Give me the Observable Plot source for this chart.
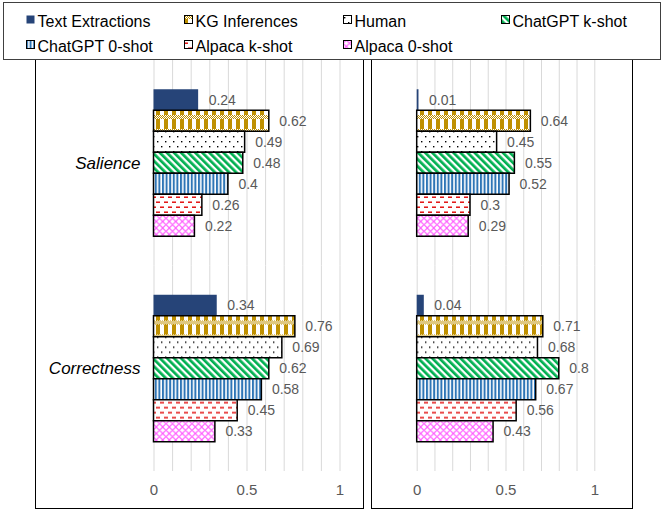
<!DOCTYPE html>
<html>
<head>
<meta charset="utf-8">
<script src="https://cdn.jsdelivr.net/npm/d3@7"></script>
<script src="https://cdn.jsdelivr.net/npm/@observablehq/plot@0.6"></script>
<style>
  html, body { margin: 0; padding: 0; background: #fff; }
  body { width: 665px; height: 514px; position: relative; overflow: hidden; font-family: "Liberation Sans", Arial, sans-serif; }
  .abs { position: absolute; }
  .panel-border { position: absolute; border: 1.5px solid #000; box-sizing: border-box; }
  #legend { position: absolute; left: 3px; top: 2px; width: 658px; height: 58px; border: 1.5px solid #404040; box-sizing: border-box; background: #fff; z-index: 5; }
  .item { position: absolute; font-size: 16px; color: #000; white-space: nowrap; line-height: 18px; }
  .item svg { position: absolute; left: 0; top: 0; }
  .item span { position: absolute; left: 12px; top: -2px; }
</style>
</head>
<body>
<svg width="0" height="0" style="position:absolute">
  <defs>
    <pattern id="p-kg-fine" width="2" height="2" patternUnits="userSpaceOnUse">
      <rect width="2" height="2" fill="#fff"/>
      <rect width="1" height="1" fill="#BF9000"/>
      <rect x="1" y="1" width="1" height="1" fill="#BF9000"/>
    </pattern>
    <pattern id="p-kg" width="8" height="14" patternUnits="userSpaceOnUse">
      <rect width="8" height="14" fill="#fff"/>
      <rect width="8" height="4" fill="url(#p-kg-fine)"/>
      <rect x="0" y="4" width="4" height="10" fill="#BF9000"/>
    </pattern>
    <pattern id="p-human" width="8" height="10" patternUnits="userSpaceOnUse">
      <rect width="8" height="10" fill="#fff"/>
      <rect x="1" y="2" width="1.4" height="1.4" fill="#000"/>
      <rect x="5" y="7" width="1.4" height="1.4" fill="#000"/>
    </pattern>
    <pattern id="p-gk" width="5" height="5" patternUnits="userSpaceOnUse" patternTransform="rotate(-45)">
      <rect width="5" height="5" fill="#fff"/>
      <rect width="2.7" height="5" fill="#00B050"/>
    </pattern>
    <pattern id="p-g0" width="3.6" height="4" patternUnits="userSpaceOnUse">
      <rect width="3.6" height="4" fill="#fff"/>
      <rect width="2" height="4" fill="#2E75B6"/>
    </pattern>
    <pattern id="p-ak" width="8" height="10" patternUnits="userSpaceOnUse">
      <rect width="8" height="10" fill="#fff"/>
      <rect x="0" y="2.5" width="4" height="1.4" fill="#E00000"/>
      <rect x="4" y="7.5" width="4" height="1.4" fill="#E00000"/>
    </pattern>
    <pattern id="p-a0" width="6.5" height="6.5" patternUnits="userSpaceOnUse">
      <rect width="6.5" height="6.5" fill="#fff"/>
      <path d="M0,3.25 L3.25,0 L6.5,3.25 L3.25,6.5 Z" fill="none" stroke="#FF55FF" stroke-width="1.1"/>
    </pattern>
  </defs>
</svg>

<div id="legend"></div>
<div class="panel-border" style="left:35px; top:58px; width:329px; height:451px;"></div>
<div class="panel-border" style="left:371px; top:58px; width:262px; height:451px;"></div>
<div id="left" class="abs" style="left:36px; top:59px;"></div>
<div id="right" class="abs" style="left:372px; top:59px;"></div>

<script>
// ---- data ----
const metrics = ["Salience", "Correctness"];
const series = ["Text Extractions", "KG Inferences", "Human", "ChatGPT k-shot", "ChatGPT 0-shot", "Alpaca k-shot", "Alpaca 0-shot"];
const leftSalience    = [0.24, 0.62, 0.49, 0.48, 0.4, 0.26, 0.22];
const leftCorrectness = [0.34, 0.76, 0.69, 0.62, 0.58, 0.45, 0.33];
const rightSalience    = [0.01, 0.64, 0.45, 0.55, 0.52, 0.3, 0.29];
const rightCorrectness = [0.04, 0.71, 0.68, 0.8, 0.67, 0.56, 0.43];
const xTicks = [0, 0.5, 1];
const gridTicks = [0, 0.1, 0.2, 0.3, 0.4, 0.5, 0.6, 0.7, 0.8, 0.9, 1];

// ---- styles ----
const fills = {
  "Text Extractions": "#264478",
  "KG Inferences": "url(#p-kg)",
  "Human": "url(#p-human)",
  "ChatGPT k-shot": "url(#p-gk)",
  "ChatGPT 0-shot": "url(#p-g0)",
  "Alpaca k-shot": "url(#p-ak)",
  "Alpaca 0-shot": "url(#p-a0)"
};

function rowsOf(sal, cor) {
  const vals = [sal, cor];
  return metrics.flatMap((m, mi) => series.map((s, si) => ({metric: m, series: s, value: vals[mi][si]})));
}

function panel(rows, {width, marginLeft, marginRight, showLabels}) {
  const marks = [
    Plot.gridX(gridTicks, {stroke: "#D9D9D9", strokeOpacity: 1, strokeWidth: 1}),
    Plot.barX(rows, {
      x: "value", y: "series", fy: "metric",
      fill: d => fills[d.series],
      stroke: d => d.series === series[0] ? "none" : "#000",
      strokeWidth: 1.5
    }),
    Plot.text(rows, {
      x: "value", y: "series", fy: "metric",
      text: d => String(d.value), dx: 10, textAnchor: "start",
      fill: "#595959", fontSize: 14
    }),
    Plot.axisX({ticks: xTicks, tickSize: 0, tickPadding: 13, fill: "#595959", fontSize: 15, label: null,
      tickFormat: d => String(d)})
  ];
  if (showLabels) {
    marks.push(Plot.axisFy({anchor: "left", tickSize: 0, tickPadding: 13.5, fontSize: 17,
      fontStyle: "italic", fill: "#000", label: null}));
  }
  return Plot.plot({
    width, height: 449,
    marginTop: 1, marginBottom: 37, marginLeft, marginRight,
    x: {domain: [0, 1]},
    y: {domain: series, paddingInner: 0, paddingOuter: 1.393, round: false, axis: null},
    fy: showLabels ? {domain: metrics, padding: 0, round: false} : {domain: metrics, padding: 0, round: false, axis: null},
    color: {type: "identity"},
    style: {fontFamily: "'Liberation Sans', Arial, sans-serif", background: "none", overflow: "visible", color: "#595959"},
    marks
  });
}

document.getElementById("left").appendChild(
  panel(rowsOf(leftSalience, leftCorrectness), {width: 327, marginLeft: 117.5, marginRight: 23.5, showLabels: true}));
document.getElementById("right").appendChild(
  panel(rowsOf(rightSalience, rightCorrectness), {width: 260, marginLeft: 44.7, marginRight: 37.7, showLabels: false}));

// ---- legend ----
// marker left/top in page coordinates
const legendPos = [[26, 15], [184, 15], [343, 15], [501, 15], [26, 40], [184, 40], [343, 40]];
const legend = document.getElementById("legend");
series.forEach((s, i) => {
  const div = document.createElement("div");
  div.className = "item";
  div.style.left = (legendPos[i][0] - 4.5) + "px";
  div.style.top = (legendPos[i][1] - 3.5) + "px";
  const stroke = i === 0 ? "none" : "#000";
  div.innerHTML = `<svg width="9" height="9"><rect x="0.5" y="0.5" width="8" height="8" fill="${fills[s]}" stroke="${stroke}" stroke-width="1"/></svg><span>${s}</span>`;
  legend.appendChild(div);
});
</script>
</body>
</html>
